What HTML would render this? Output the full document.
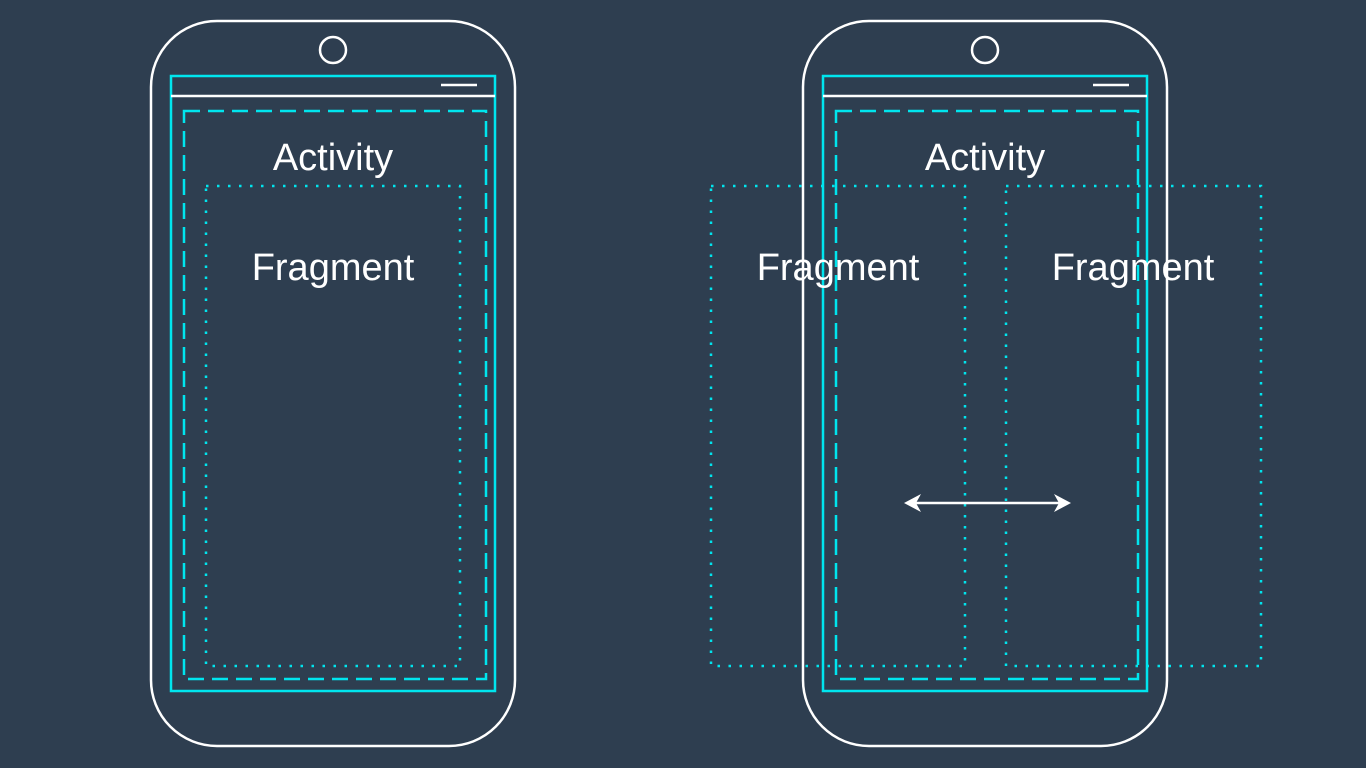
<!DOCTYPE html>
<html><head><style>
html,body{margin:0;padding:0;background:#2e3e50;}
svg{display:block}
text{font-family:"Liberation Sans",sans-serif;font-weight:300;fill:#fff;font-size:38px;text-anchor:middle}
</style></head><body>
<svg width="1366" height="768" viewBox="0 0 1366 768">
<rect width="1366" height="768" fill="#2e3e50"/>
<g id="p1">
<rect x="151" y="21" width="364" height="725" rx="66" fill="none" stroke="#fff" stroke-width="2.5"/>
<circle cx="333" cy="50" r="13" fill="none" stroke="#fff" stroke-width="2.5"/>
<rect x="171" y="76" width="324" height="615" fill="none" stroke="#00e5ee" stroke-width="2.5"/>
<line x1="171" y1="96" x2="495" y2="96" stroke="#fff" stroke-width="2.5"/>
<line x1="441" y1="85" x2="477" y2="85" stroke="#fff" stroke-width="2.5"/>
<rect x="184" y="111" width="302" height="568" fill="none" stroke="#00e5ee" stroke-width="2.5" stroke-dasharray="16 8"/>
<text x="333" y="170">Activity</text>
</g>
<rect x="206" y="186" width="254" height="480" fill="none" stroke="#00e5ee" stroke-width="2.5" stroke-dasharray="2.5 8.5"/>
<text x="333" y="280">Fragment</text>
<use href="#p1" transform="translate(652,0)"/>
<rect x="711" y="186" width="254" height="480" fill="none" stroke="#00e5ee" stroke-width="2.5" stroke-dasharray="2.5 8.5"/>
<rect x="1006" y="186" width="255" height="480" fill="none" stroke="#00e5ee" stroke-width="2.5" stroke-dasharray="2.5 8.5"/>
<text x="838" y="280">Fragment</text>
<text x="1133" y="280">Fragment</text>
<line x1="915" y1="503" x2="1060" y2="503" stroke="#fff" stroke-width="2.5"/>
<path d="M904 503 L921 494 L916 503 L921 512 Z" fill="#fff"/>
<path d="M1071 503 L1054 494 L1059 503 L1054 512 Z" fill="#fff"/>
</svg>
</body></html>
